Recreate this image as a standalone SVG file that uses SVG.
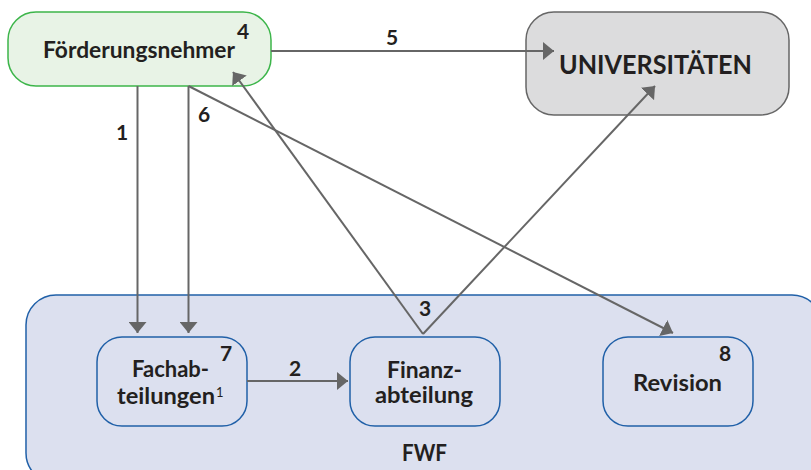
<svg xmlns="http://www.w3.org/2000/svg" width="811" height="470" viewBox="0 0 811 470">
<style>
text{font-family:Lato,"Open Sans","Liberation Sans",sans-serif;font-weight:700;fill:#231f20}
.lbl{font-size:21px}
.con{stroke:#666;stroke-width:2;fill:none}
.inner{fill:#dce0ef;stroke:#2060a8;stroke-width:1.5}
.sup{font-size:13px;font-weight:400}
</style>
<defs>
<marker id="ah" markerUnits="userSpaceOnUse" markerWidth="12" markerHeight="18" refX="11" refY="9" orient="auto" viewBox="0 0 12 18">
<path d="M0,0 L11,9 L0,18 z" fill="#666"/>
</marker>
</defs>
<rect width="811" height="470" fill="#fff"/>
<g id="fwf">
<rect x="26" y="295" width="796" height="188" rx="30" fill="#dce0ef" stroke="#2060a8" stroke-width="1.5"/>
<text x="402" y="461" font-size="22" textLength="45" lengthAdjust="spacingAndGlyphs">FWF</text>
</g>
<g id="foerderungsnehmer">
<rect x="8" y="12" width="263" height="74" rx="28" fill="#e8f3e6" stroke="#3cb54a" stroke-width="1.5"/>
<text x="43" y="58" font-size="23" textLength="192" lengthAdjust="spacingAndGlyphs">Förderungsnehmer</text>
<text class="lbl" x="237" y="39">4</text>
</g>
<g id="universitaeten">
<rect x="526" y="12" width="263" height="103" rx="28" fill="#dcdcdd" stroke="#666" stroke-width="1.5"/>
<text x="559" y="74" font-size="27" textLength="193" lengthAdjust="spacingAndGlyphs">UNIVERSITÄTEN</text>
</g>
<g id="fachabteilungen">
<rect class="inner" x="97" y="337" width="150" height="89" rx="25"/>
<text x="132" y="377" font-size="22" textLength="77" lengthAdjust="spacingAndGlyphs">Fachab-</text>
<text x="117" y="404" font-size="22" textLength="98" lengthAdjust="spacingAndGlyphs">teilungen</text>
<text class="sup" x="216" y="397">1</text>
<text class="lbl" x="220" y="361">7</text>
</g>
<g id="finanzabteilung">
<rect class="inner" x="350" y="337" width="150" height="89" rx="25"/>
<text x="387" y="378" font-size="22" textLength="75" lengthAdjust="spacingAndGlyphs">Finanz-</text>
<text x="375" y="403" font-size="22" textLength="98" lengthAdjust="spacingAndGlyphs">abteilung</text>
</g>
<g id="revision">
<rect class="inner" x="603" y="337" width="150" height="89" rx="25"/>
<text x="633" y="391" font-size="22" textLength="89" lengthAdjust="spacingAndGlyphs">Revision</text>
<text class="lbl" x="719" y="361">8</text>
</g>
<g id="connectors">
<line class="con" x1="137.5" y1="86" x2="137.5" y2="333" marker-end="url(#ah)"/>
<line class="con" x1="188.5" y1="86" x2="188.5" y2="333" marker-end="url(#ah)"/>
<line class="con" x1="188.5" y1="86" x2="673" y2="333" marker-end="url(#ah)"/>
<line class="con" x1="271" y1="51" x2="554" y2="51" marker-end="url(#ah)"/>
<line class="con" x1="247" y1="381" x2="348" y2="381" marker-end="url(#ah)"/>
<line class="con" x1="423" y1="334" x2="233" y2="72" marker-end="url(#ah)"/>
<line class="con" x1="423" y1="334" x2="655" y2="86" marker-end="url(#ah)"/>
<text class="lbl" x="116" y="140">1</text>
<text class="lbl" x="198" y="122">6</text>
<text class="lbl" x="386" y="45">5</text>
<text class="lbl" x="419" y="316">3</text>
<text class="lbl" x="289" y="376">2</text>
</g>
</svg>
